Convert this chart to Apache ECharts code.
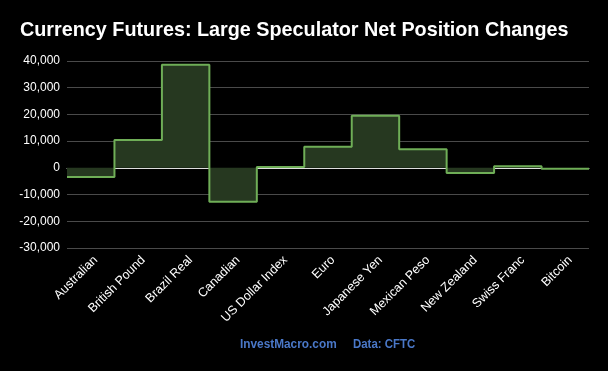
<!DOCTYPE html>
<html><head><meta charset="utf-8">
<script src="https://cdn.jsdelivr.net/npm/echarts@6/dist/echarts.min.js"></script>
<style>html,body{margin:0;padding:0;background:#000}#c{width:608px;height:371px}</style>
</head><body><div id="c"></div>
<script>
const categories = ["Australian","British Pound","Brazil Real","Canadian","US Dollar Index","Euro","Japanese Yen","Mexican Peso","New Zealand","Swiss Franc","Bitcoin"];
const netChanges = [-3400, 10400, 38600, -12700, 300, 7900, 19500, 7000, -1900, 600, -300];
const yTicks = {min: -30000, max: 40000, interval: 10000};

const stepData = netChanges.map((v, i) => [i, v]);
stepData.push([categories.length, netChanges[netChanges.length - 1]]);

const chart = echarts.init(document.getElementById('c'));
chart.setOption({
  backgroundColor: '#000',
  animation: false,
  title: [{
    text: 'Currency Futures: Large Speculator Net Position Changes',
    left: 15, top: 16,
    textStyle: {color: '#fff', fontSize: 19.8, fontWeight: 'bold', fontFamily: 'Liberation Sans, Arial'}
  }],
  graphic: [{
    type: 'text', left: 240, top: 338, scaleX: 0.91,
    style: {text: 'InvestMacro.com', fill: '#4a78c8', font: 'bold 13px "Liberation Sans", Arial'}
  }, {
    type: 'text', left: 353, top: 338, scaleX: 0.88,
    style: {text: 'Data: CFTC', fill: '#4a78c8', font: 'bold 13px "Liberation Sans", Arial'}
  }],
  grid: {left: 67, right: 19, top: 61, bottom: 123},
  xAxis: [{
    type: 'category', data: categories, boundaryGap: true,
    axisLine: {show: false, onZero: false}, axisTick: {show: false},
    axisLabel: {color: '#fff', fontSize: 12.5, rotate: 45, interval: 0, margin: 15, padding: [0, -7, 0, 0], fontFamily: 'Liberation Sans, Arial'}
  }, {
    type: 'value', min: 0, max: categories.length, show: true, position: 'bottom',
    axisLine: {show: true, onZero: true, lineStyle: {color: '#ddd', width: 1}},
    axisTick: {show: false}, axisLabel: {show: false}, splitLine: {show: false}
  }],
  yAxis: {
    type: 'value', min: yTicks.min, max: yTicks.max, interval: yTicks.interval,
    axisLine: {show: false}, axisTick: {show: false},
    axisLabel: {color: '#fff', fontSize: 12, margin: 7, fontFamily: 'Liberation Sans, Arial',
      formatter: v => v.toLocaleString('en-US')},
    splitLine: {lineStyle: {color: '#4a4a4a', width: 1}}
  },
  series: [{
    type: 'line', xAxisIndex: 1, step: 'end', data: stepData,
    symbol: 'none',
    lineStyle: {color: '#6fae57', width: 2},
    areaStyle: {color: '#263820', origin: 0, opacity: 1}
  }]
});
</script></body></html>
